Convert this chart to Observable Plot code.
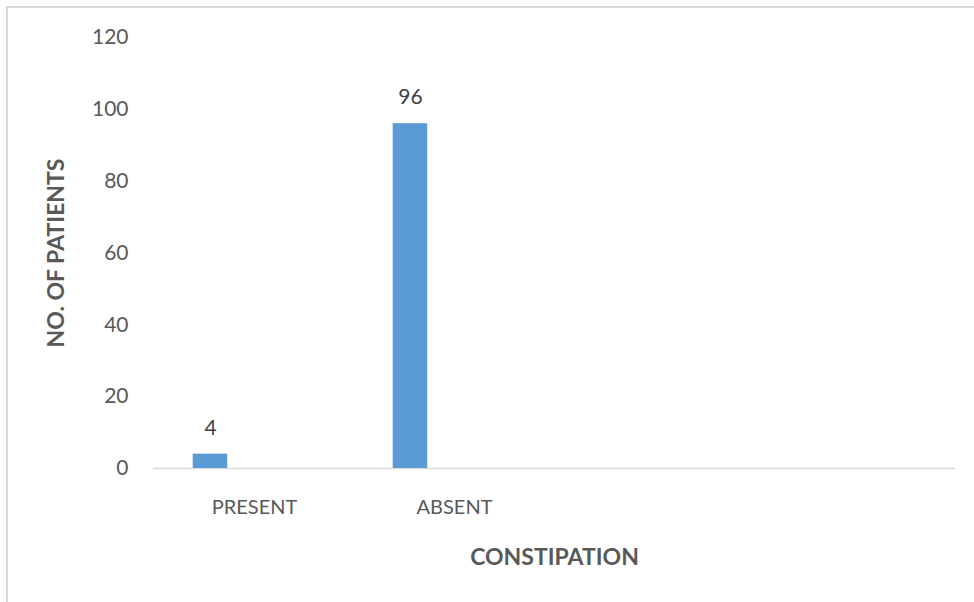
<!DOCTYPE html>
<html>
<head>
<meta charset="utf-8">
<script src="https://cdn.jsdelivr.net/npm/d3@7"></script>
<script src="https://cdn.jsdelivr.net/npm/@observablehq/plot@0.6"></script>
<style>
  html, body { margin: 0; padding: 0; background: #ffffff; }
  #wrap { position: relative; width: 974px; height: 602px; }
  #frame {
    position: absolute; left: 6px; top: 6px; right: -4px; bottom: -4px;
    border-left: 2px solid #d9d9d9; border-top: 2px solid #d9d9d9;
    pointer-events: none;
  }
</style>
</head>
<body>
<div id="wrap"><div id="frame"></div></div>
<script>
// Constipation among patients
const categories = ["PRESENT", "ABSENT"];
const patients = [4, 96];
const emptySlots = ["slot3", "slot4"];
const yTicks = [0, 20, 40, 60, 80, 100, 120];
const xTitle = "CONSTIPATION";
const yTitle = "NO. OF PATIENTS";

const data = categories.map((c, i) => ({category: c, patients: patients[i]}));

const chart = Plot.plot({
  width: 974,
  height: 602,
  marginLeft: 153,
  marginRight: 19,
  marginTop: 37,
  marginBottom: 134,
  style: {fontFamily: "Lato", fontSize: "20px", color: "#595959", background: "transparent"},
  x: {domain: [...categories, ...emptySlots], padding: 0, label: null},
  y: {domain: [0, 120], label: null},
  marks: [
    Plot.axisY({ticks: yTicks, tickSize: 0, tickPadding: 25, label: null, fontSize: 21}),
    Plot.axisX({tickSize: 0, tickPadding: 31, label: null,
      tickFormat: d => categories.includes(d) ? d : ""}),
    Plot.ruleY([0], {stroke: "#d9d9d9", strokeWidth: 1.5}),
    Plot.barY(data, {x: "category", y: "patients", fill: "#5b9bd5",
      insetLeft: 38.7, insetRight: 126.8}),
    Plot.text(data, {x: "category", y: "patients", text: d => String(d.patients),
      dx: -44, dy: -26, fill: "#404040", fontSize: 21}),
    Plot.text([xTitle], {frameAnchor: "bottom", text: d => d, dy: 96,
      fontWeight: "bold", fontSize: 23, fill: "#595959"}),
    Plot.text([yTitle], {frameAnchor: "left", text: d => d, dx: -96.5, rotate: -90,
      textAnchor: "middle", fontWeight: "bold", fontSize: 23, fill: "#595959"})
  ]
});

document.getElementById("wrap").prepend(chart);
</script>
</body>
</html>
